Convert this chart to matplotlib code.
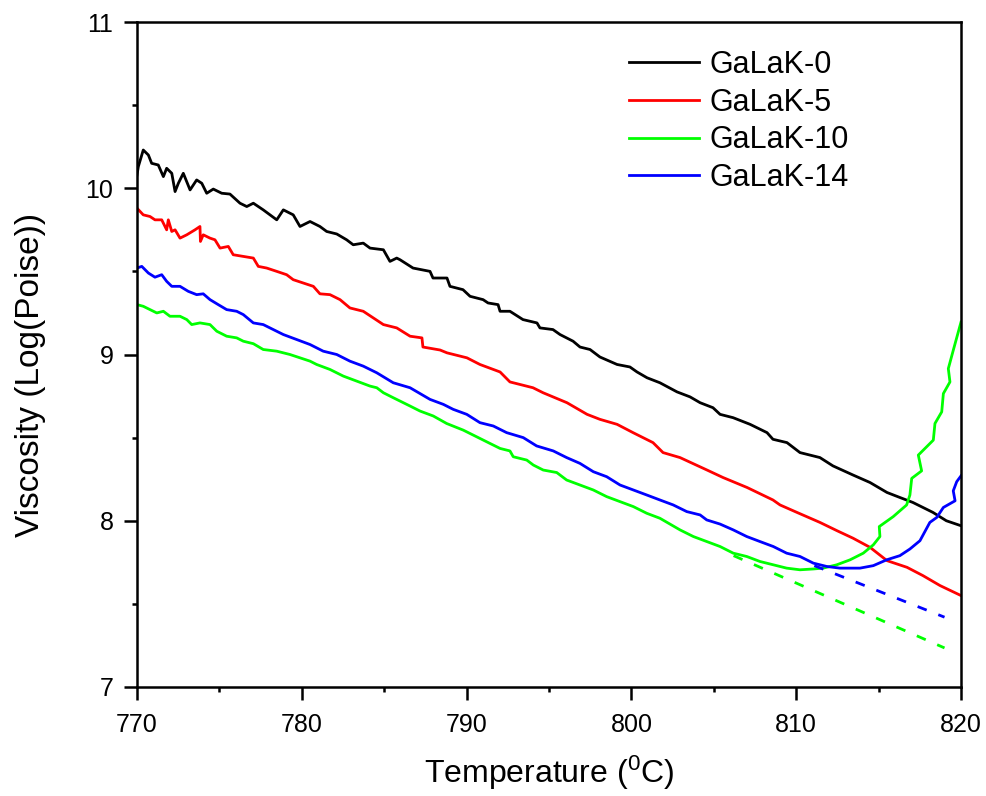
import matplotlib
matplotlib.use("Agg")
import matplotlib.pyplot as plt
from matplotlib.ticker import MultipleLocator

plt.rcParams['font.family'] = ['Liberation Sans', 'DejaVu Sans']

# ---------------- data ----------------
t0 = [770.00, 770.08, 770.38, 770.69, 770.89, 771.29, 771.60, 771.80, 772.11, 772.31,
      772.51, 772.81, 773.22, 773.62, 773.93, 774.23, 774.63, 775.14, 775.64, 776.25,
      776.66, 777.06, 777.66, 778.48, 778.88, 779.48, 779.89, 780.50, 781.10, 781.51,
      782.12, 782.72, 783.12, 783.73, 784.14, 784.95, 785.35, 785.76, 785.96, 786.75,
      787.78, 787.96, 788.81, 788.99, 789.78, 790.21, 791.00, 791.30, 791.91, 792.03,
      792.63, 793.42, 794.27, 794.45, 795.24, 795.67, 796.46, 796.88, 797.49, 798.09,
      799.13, 799.91, 800.34, 800.95, 801.73, 802.77, 803.56, 804.17, 804.95, 805.38,
      806.17, 807.20, 808.23, 808.59, 809.44, 810.23, 811.44, 812.23, 813.45, 814.48,
      815.51, 816.29, 817.08, 818.30, 819.11, 820.00]
v0 = [10.08, 10.13, 10.23, 10.20, 10.15, 10.14, 10.07, 10.12, 10.09, 9.98,
      10.03, 10.09, 9.99, 10.05, 10.03, 9.97, 9.995, 9.97, 9.965, 9.91,
      9.89, 9.91, 9.87, 9.81, 9.87, 9.84, 9.77, 9.80, 9.77, 9.74,
      9.725, 9.69, 9.66, 9.67, 9.64, 9.63, 9.56, 9.58, 9.57, 9.52,
      9.50, 9.46, 9.46, 9.41, 9.39, 9.35, 9.33, 9.31, 9.30, 9.26,
      9.26, 9.21, 9.19, 9.16, 9.15, 9.12, 9.08, 9.045, 9.03, 8.985,
      8.94, 8.925, 8.895, 8.86, 8.83, 8.775, 8.745, 8.71, 8.68, 8.64,
      8.62, 8.58, 8.53, 8.49, 8.47, 8.41, 8.38, 8.33, 8.275, 8.23,
      8.17, 8.14, 8.11, 8.05, 8.00, 7.97]

t5 = [770.00, 770.38, 770.79, 771.09, 771.50, 771.80, 771.90, 772.11, 772.31, 772.61,
      773.02, 773.52, 773.82, 773.85, 774.02, 774.43, 774.73, 775.04, 775.54, 775.84,
      776.45, 777.06, 777.36, 777.87, 778.48, 779.08, 779.48, 780.09, 780.70, 781.10,
      781.71, 782.32, 782.92, 783.73, 784.34, 784.95, 785.76, 786.57, 787.29, 787.35,
      788.39, 788.81, 790.02, 790.81, 792.03, 792.63, 794.03, 794.64, 796.09, 797.31,
      798.09, 799.13, 800.10, 801.31, 801.92, 802.95, 804.59, 805.56, 807.02, 808.59,
      809.02, 810.05, 811.44, 812.48, 813.45, 814.48, 815.51, 816.72, 817.69, 818.73,
      820.00]
v5 = [9.88, 9.84, 9.83, 9.81, 9.81, 9.75, 9.81, 9.74, 9.75, 9.70,
      9.72, 9.75, 9.77, 9.68, 9.72, 9.70, 9.69, 9.64, 9.65, 9.60,
      9.59, 9.58, 9.53, 9.52, 9.50, 9.48, 9.45, 9.43, 9.41, 9.365,
      9.36, 9.33, 9.28, 9.26, 9.22, 9.18, 9.16, 9.11, 9.10, 9.045,
      9.027, 9.01, 8.98, 8.94, 8.895, 8.835, 8.80, 8.77, 8.71, 8.64,
      8.61, 8.58, 8.53, 8.47, 8.41, 8.38, 8.305, 8.26, 8.20, 8.125,
      8.095, 8.05, 7.99, 7.94, 7.895, 7.84, 7.76, 7.72, 7.67, 7.61,
      7.55]

t10 = [770.00, 770.38, 770.79, 771.20, 771.60, 772.00, 772.61, 773.02, 773.32, 773.82,
       774.43, 774.84, 775.44, 776.05, 776.45, 777.06, 777.66, 778.48, 779.28, 779.89,
       780.50, 780.90, 781.71, 782.52, 783.33, 784.14, 784.55, 784.95, 785.55, 786.57,
       787.17, 787.98, 788.79, 789.80, 790.61, 791.42, 792.03, 792.63, 792.83, 793.65,
       794.05, 794.65, 795.47, 796.07, 796.88, 797.69, 798.50, 799.31, 800.12, 800.93,
       801.73, 802.95, 803.76, 804.57, 805.38, 806.18, 807.00, 807.80, 808.61, 809.42,
       810.23, 811.04, 811.64, 812.46, 813.27, 814.07, 814.68, 815.08, 815.04, 815.89,
       816.70, 816.90, 817.01, 817.61, 817.41, 818.32, 818.42, 818.83, 818.93, 819.33,
       819.23, 819.53, 820.00]
v10 = [9.30, 9.29, 9.27, 9.25, 9.26, 9.23, 9.23, 9.21, 9.18, 9.19,
       9.18, 9.14, 9.11, 9.10, 9.08, 9.065, 9.03, 9.02, 9.00, 8.98,
       8.96, 8.94, 8.91, 8.87, 8.84, 8.81, 8.80, 8.77, 8.74, 8.69,
       8.66, 8.63, 8.585, 8.545, 8.505, 8.465, 8.435, 8.42, 8.385, 8.365,
       8.335, 8.305, 8.29, 8.245, 8.215, 8.185, 8.145, 8.115, 8.085, 8.045,
       8.015, 7.945, 7.905, 7.875, 7.845, 7.805, 7.785, 7.755, 7.735, 7.715,
       7.705, 7.71, 7.715, 7.735, 7.765, 7.805, 7.855, 7.905, 7.965, 8.025,
       8.095, 8.155, 8.255, 8.30, 8.395, 8.485, 8.585, 8.655, 8.765, 8.835,
       8.915, 9.025, 9.195]

t14 = [770.00, 770.29, 770.69, 771.09, 771.50, 771.80, 772.11, 772.61, 773.11, 773.62,
       774.02, 774.43, 774.93, 775.44, 776.05, 776.45, 777.06, 777.66, 778.27, 778.88,
       779.69, 780.50, 781.30, 782.12, 782.92, 783.73, 784.55, 785.55, 786.57, 787.78,
       788.59, 789.19, 790.01, 790.81, 791.62, 792.43, 793.44, 794.25, 795.26, 796.07,
       796.88, 797.69, 798.50, 799.31, 800.12, 800.93, 801.73, 802.54, 803.36, 804.17,
       804.57, 805.38, 806.18, 807.00, 807.80, 808.61, 809.42, 810.23, 811.04, 811.85,
       812.65, 813.87, 814.68, 815.49, 816.29, 816.90, 817.51, 818.11, 818.53, 818.93,
       819.64, 819.53, 819.74, 820.00]
v14 = [9.52, 9.53, 9.49, 9.465, 9.48, 9.44, 9.41, 9.41, 9.38, 9.36,
       9.365, 9.33, 9.30, 9.27, 9.26, 9.24, 9.19, 9.18, 9.15, 9.12,
       9.09, 9.06, 9.02, 9.00, 8.96, 8.93, 8.89, 8.83, 8.80, 8.73,
       8.70, 8.67, 8.64, 8.59, 8.57, 8.53, 8.50, 8.45, 8.42, 8.38,
       8.345, 8.295, 8.265, 8.215, 8.185, 8.155, 8.125, 8.095, 8.055, 8.035,
       8.005, 7.98, 7.945, 7.905, 7.875, 7.845, 7.805, 7.785, 7.745, 7.725,
       7.715, 7.715, 7.73, 7.765, 7.79, 7.83, 7.88, 7.99, 8.02, 8.08,
       8.12, 8.18, 8.235, 8.27]

# extrapolated (dashed) trends
t10_fit = [806.2, 819.0]
v10_fit = [7.79, 7.235]
t14_fit = [811.1, 819.0]
v14_fit = [7.73, 7.42]

labels = ['GaLaK-0', 'GaLaK-5', 'GaLaK-10', 'GaLaK-14']
colors = ['#000000', '#FF0000', '#00FF00', '#0000FF']

# ---------------- plot ----------------
fig = plt.figure(figsize=(9.87, 7.96), dpi=100)
ax = fig.add_axes([137/987, 1-687/796, (961-137)/987, (687-22)/796])

series = [(t0, v0), (t5, v5), (t10, v10), (t14, v14)]
for (t, v), lab, c in zip(series, labels, colors):
    ax.plot(t, v, color=c, lw=2.0, label=lab)

ax.plot(t10_fit, v10_fit, color=colors[2], lw=2.0, linestyle=(0, (3.5, 4.5)))
ax.plot(t14_fit, v14_fit, color=colors[3], lw=2.0, linestyle=(0, (3.5, 4.5)))

ax.set_xlim(770, 820)
ax.set_ylim(7, 11)
ax.xaxis.set_major_locator(MultipleLocator(10))
ax.xaxis.set_minor_locator(MultipleLocator(5))
ax.yaxis.set_major_locator(MultipleLocator(1))
ax.yaxis.set_minor_locator(MultipleLocator(0.5))
ax.tick_params(which='major', direction='out', length=9.5, width=1.8,
               labelsize=18)
ax.tick_params(axis='x', which='major', pad=9)
ax.tick_params(axis='y', which='major', pad=7.5)
ax.tick_params(which='minor', direction='out', length=3.8, width=1.8)
for s in ax.spines.values():
    s.set_linewidth(1.8)

ax.set_xlabel(r'Temperature ($\mathregular{^0}$C)', fontsize=23, labelpad=12)
ax.set_ylabel('Viscosity (Log(Poise))', fontsize=24)
ax.yaxis.set_label_coords((46-137)/824, (687-375)/665)

ax.legend(loc='upper left', bbox_to_anchor=((629-137)/824, (687-50)/665),
          frameon=False, fontsize=22, handlelength=2.3, handletextpad=0.35,
          labelspacing=0.25, borderpad=0, borderaxespad=0)

fig.savefig('out.png', dpi=100)
